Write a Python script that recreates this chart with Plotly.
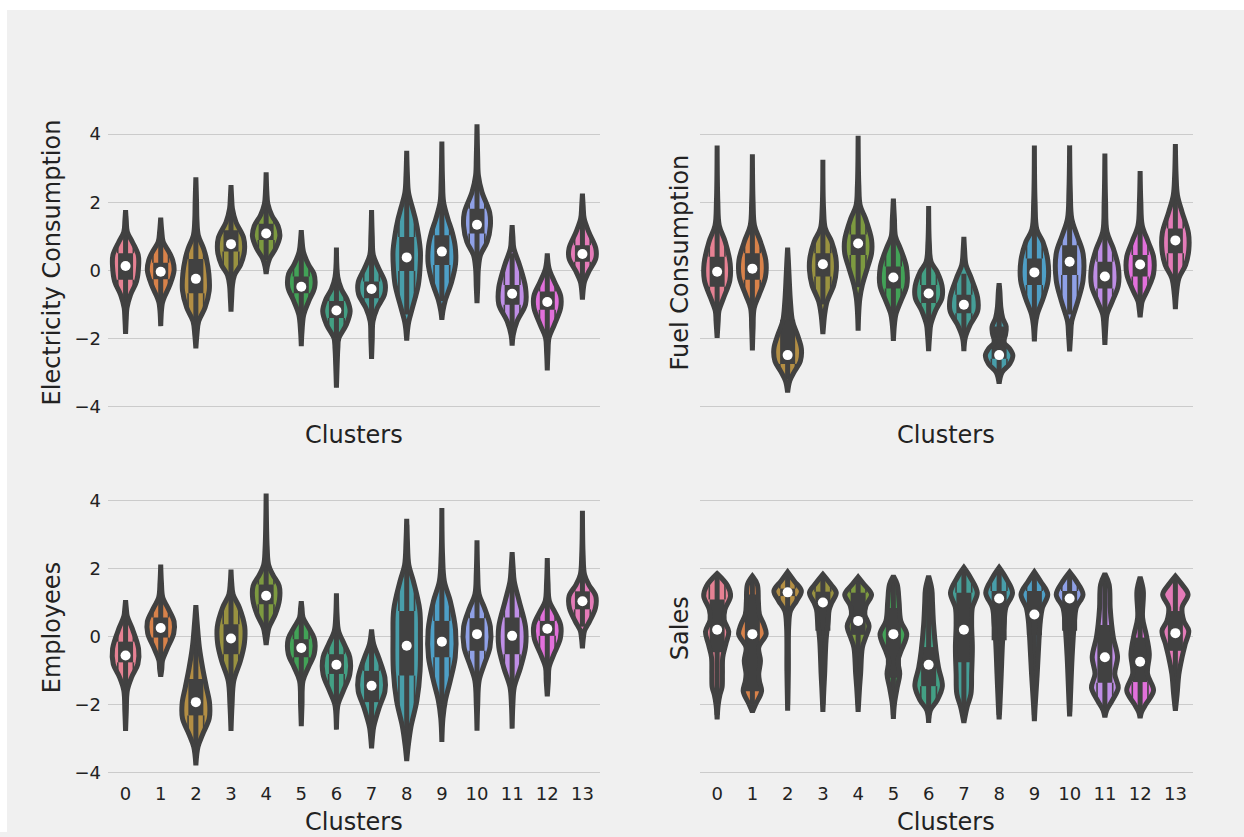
import math
import colorsys
import numpy as np
import plotly.graph_objects as go

# ---------------------------------------------------------------- data
clusters = list(range(14))
y_tick_vals = [-4, -2, 0, 2, 4]
y_tick_text = ["\u22124", "\u22122", "0", "2", "4"]

# Each violin outline is a list of (value, half-width of the density) knots,
# running from the lower tip to the upper tip.

# --- Electricity Consumption
elec_median = [0.13, -0.04, -0.25, 0.77, 1.08, -0.48, -1.18, -0.55, 0.38, 0.55, 1.34, -0.69, -0.93, 0.48]
elec_q1 = [-0.28, -0.26, -0.67, 0.55, 0.89, -0.67, -1.40, -0.82, -0.02, 0.16, 1.08, -1.01, -1.16, 0.25]
elec_q3 = [0.50, 0.22, 0.33, 1.18, 1.37, -0.18, -0.90, -0.33, 0.98, 1.03, 1.81, -0.43, -0.62, 0.74]
elec_whisk_lo = [-1.35, -0.95, -1.9, -0.3, 0.3, -1.4, -2.3, -1.7, -1.3, -0.9, 0.1, -1.9, -2.0, -0.4]
elec_whisk_hi = [1.6, 0.9, 1.8, 2.0, 2.1, 0.6, -0.1, 0.8, 2.4, 2.3, 2.9, 0.5, 0.2, 1.6]
elec_density = [
    [(-1.87, 0), (-1.4, .02), (-1.1, .04), (-0.72, .14), (-0.33, .31), (0.1, .37), (0.45, .36), (0.84, .19), (1.13, .05), (1.45, .02), (1.77, 0)],
    [(-1.64, 0), (-1.2, .02), (-0.95, .05), (-0.82, .09), (-0.43, .26), (0.0, .38), (0.3, .34), (0.55, .23), (0.84, .07), (1.15, .03), (1.55, 0)],
    [(-2.29, 0), (-1.9, .03), (-1.5, .08), (-1.1, .26), (-0.6, .38), (-0.1, .37), (0.35, .3), (0.64, .22), (1.03, .07), (1.5, .03), (2.0, .02), (2.73, 0)],
    [(-1.21, 0), (-0.8, .02), (-0.45, .04), (-0.14, .10), (0.16, .27), (0.55, .38), (0.95, .36), (1.42, .14), (1.81, .04), (2.1, .02), (2.5, 0)],
    [(-0.11, 0), (0.1, .03), (0.35, .10), (0.64, .27), (1.0, .39), (1.3, .34), (1.62, .16), (1.95, .05), (2.3, .02), (2.88, 0)],
    [(-2.23, 0), (-1.8, .02), (-1.3, .07), (-0.91, .21), (-0.5, .38), (-0.1, .36), (0.16, .21), (0.55, .06), (0.9, .02), (1.18, 0)],
    [(-3.45, 0), (-2.8, .02), (-2.3, .04), (-1.99, .07), (-1.6, .28), (-1.2, .39), (-0.85, .3), (-0.55, .14), (-0.2, .04), (0.67, 0)],
    [(-2.6, 0), (-2.0, .02), (-1.5, .04), (-1.11, .16), (-0.7, .37), (-0.35, .38), (0.06, .2), (0.45, .05), (1.0, .02), (1.77, 0)],
    [(-2.06, 0), (-1.7, .03), (-1.5, .06), (-1.11, .16), (-0.43, .33), (0.1, .38), (0.55, .39), (1.0, .34), (1.5, .25), (1.81, .17), (2.3, .05), (2.8, .02), (3.51, 0)],
    [(-1.45, 0), (-1.2, .03), (-0.91, .09), (-0.33, .28), (0.2, .39), (0.7, .38), (1.1, .3), (1.52, .17), (2.0, .05), (2.6, .02), (3.78, 0)],
    [(-0.96, 0), (-0.5, .02), (0.06, .04), (0.45, .10), (0.84, .29), (1.3, .38), (1.7, .36), (2.3, .14), (2.78, .04), (3.3, .02), (4.29, 0)],
    [(-2.21, 0), (-1.9, .03), (-1.5, .14), (-1.0, .38), (-0.5, .38), (0.16, .21), (0.64, .05), (1.0, .02), (1.33, 0)],
    [(-2.94, 0), (-2.4, .02), (-1.98, .05), (-1.6, .2), (-1.1, .38), (-0.75, .38), (-0.33, .2), (0.06, .05), (0.5, 0)],
    [(-0.86, 0), (-0.5, .03), (-0.33, .06), (-0.04, .18), (0.35, .38), (0.65, .38), (1.13, .18), (1.52, .05), (1.9, .02), (2.25, 0)],
]

# --- Fuel Consumption
fuel_median = [-0.04, 0.05, -2.49, 0.18, 0.79, -0.21, -0.68, -1.01, -2.49, -0.06, 0.25, -0.18, 0.17, 0.88]
fuel_q1 = [-0.48, -0.28, -2.75, -0.18, 0.45, -0.53, -0.96, -1.26, -2.6, -0.43, -0.14, -0.53, -0.18, 0.5]
fuel_q3 = [0.4, 0.5, -1.45, 0.5, 1.05, 0.11, -0.43, -0.72, -1.65, 0.35, 0.74, 0.25, 0.45, 1.23]
fuel_whisk_lo = [-1.5, -1.3, -3.2, -1.0, -0.5, -1.3, -1.7, -2.0, -3.1, -1.5, -1.3, -1.5, -0.9, -0.4]
fuel_whisk_hi = [1.7, 1.8, 0.3, 1.5, 2.1, 1.0, 0.3, -0.1, -0.6, 1.6, 2.0, 1.5, 1.5, 2.2]
fuel_density = [
    [(-1.98, 0), (-1.5, .03), (-1.2, .05), (-0.82, .18), (-0.3, .36), (0.2, .37), (0.84, .23), (1.32, .06), (2.0, .02), (3.67, 0)],
    [(-2.35, 0), (-1.7, .02), (-1.11, .05), (-0.72, .19), (-0.2, .37), (0.3, .38), (0.84, .23), (1.32, .06), (2.0, .02), (3.41, 0)],
    [(-3.59, 0), (-3.25, .06), (-2.96, .2), (-2.67, .36), (-2.3, .39), (-1.9, .28), (-1.5, .14), (-0.92, .08), (-0.14, .04), (0.3, .02), (0.67, 0)],
    [(-1.87, 0), (-1.5, .03), (-1.3, .05), (-0.91, .12), (-0.43, .31), (0.0, .38), (0.35, .37), (0.84, .25), (1.23, .07), (1.8, .02), (3.25, 0)],
    [(-1.77, 0), (-1.2, .02), (-0.82, .05), (-0.43, .12), (0.06, .26), (0.5, .38), (0.9, .38), (1.52, .21), (1.9, .06), (2.5, .02), (3.95, 0)],
    [(-2.07, 0), (-1.6, .03), (-1.3, .07), (-0.91, .21), (-0.45, .38), (0.1, .37), (0.64, .2), (1.0, .06), (1.5, .03), (2.11, 0)],
    [(-2.37, 0), (-1.9, .03), (-1.6, .06), (-1.2, .19), (-0.8, .38), (-0.45, .38), (-0.04, .24), (0.25, .07), (0.8, .02), (1.89, 0)],
    [(-2.37, 0), (-1.98, .04), (-1.6, .18), (-1.2, .39), (-0.8, .39), (-0.23, .21), (0.16, .06), (0.6, .02), (0.98, 0)],
    [(-3.33, 0), (-3.0, .08), (-2.75, .3), (-2.5, .39), (-2.3, .3), (-2.1, .12), (-1.9, .18), (-1.65, .2), (-1.4, .1), (-1.1, .05), (-0.6, .02), (-0.38, 0)],
    [(-2.09, 0), (-1.6, .03), (-1.3, .08), (-0.82, .25), (-0.3, .39), (0.3, .38), (0.84, .24), (1.2, .07), (2.0, .02), (3.67, 0)],
    [(-2.38, 0), (-1.9, .03), (-1.5, .06), (-0.92, .23), (-0.3, .38), (0.5, .38), (1.03, .21), (1.52, .06), (2.3, .02), (3.67, 0)],
    [(-2.19, 0), (-1.6, .03), (-1.3, .06), (-0.91, .21), (-0.45, .38), (0.1, .38), (0.64, .24), (1.13, .06), (2.0, .02), (3.43, 0)],
    [(-1.38, 0), (-1.1, .03), (-0.91, .06), (-0.53, .23), (-0.1, .38), (0.4, .38), (0.84, .23), (1.32, .06), (2.0, .02), (2.92, 0)],
    [(-1.14, 0), (-0.7, .03), (-0.23, .1), (0.16, .29), (0.6, .38), (1.1, .37), (1.71, .19), (2.2, .06), (2.8, .02), (3.71, 0)],
]

# --- Employees
emp_median = [-0.55, 0.26, -1.92, -0.05, 1.21, -0.33, -0.82, -1.44, -0.26, -0.14, 0.08, 0.03, 0.24, 1.05]
emp_q1 = [-0.75, -0.02, -2.31, -0.51, 0.96, -0.6, -1.09, -1.92, -1.14, -0.6, -0.41, -0.51, 0.03, 0.81]
emp_q3 = [-0.14, 0.57, -1.24, 0.37, 1.54, -0.07, -0.51, -1.0, 0.76, 0.47, 0.55, 0.57, 0.47, 1.34]
emp_whisk_lo = [-1.7, -0.8, -3.3, -1.8, 0.2, -1.4, -1.9, -2.9, -3.4, -2.2, -1.6, -1.9, -0.9, 0.3]
emp_whisk_hi = [0.7, 1.3, 0.3, 1.5, 2.4, 0.7, 0.3, 0.0, 3.3, 2.0, 1.9, 1.9, 1.4, 1.9]
emp_density = [
    [(-2.77, 0), (-2.2, .02), (-1.58, .05), (-1.19, .17), (-0.8, .35), (-0.35, .37), (0.27, .18), (0.6, .05), (0.85, .02), (1.08, 0)],
    [(-1.17, 0), (-0.95, .03), (-0.7, .05), (-0.31, .2), (0.1, .37), (0.45, .38), (0.86, .2), (1.15, .06), (1.6, .02), (2.13, 0)],
    [(-3.78, 0), (-3.24, .06), (-2.85, .2), (-2.4, .38), (-1.95, .39), (-1.48, .3), (-0.9, .19), (-0.31, .1), (0.37, .04), (0.93, 0)],
    [(-2.77, 0), (-2.0, .03), (-1.29, .08), (-0.7, .27), (-0.2, .38), (0.3, .39), (0.86, .24), (1.25, .06), (1.6, .02), (1.98, 0)],
    [(-0.24, 0), (0.0, .03), (0.27, .08), (0.66, .26), (1.1, .38), (1.5, .37), (1.83, .19), (2.12, .07), (2.6, .03), (4.22, 0)],
    [(-2.63, 0), (-2.0, .02), (-1.29, .05), (-0.9, .2), (-0.5, .37), (-0.05, .37), (0.27, .21), (0.57, .05), (0.85, .02), (1.05, 0)],
    [(-2.73, 0), (-2.2, .02), (-1.97, .05), (-1.58, .2), (-1.1, .38), (-0.6, .38), (-0.21, .22), (0.18, .06), (0.6, .02), (1.28, 0)],
    [(-3.28, 0), (-2.9, .03), (-2.65, .06), (-2.07, .22), (-1.6, .38), (-1.2, .38), (-0.6, .2), (-0.21, .06), (0.22, 0)],
    [(-3.65, 0), (-3.24, .04), (-2.65, .12), (-1.87, .29), (-1.0, .38), (0.0, .39), (0.8, .37), (1.64, .19), (2.12, .06), (2.8, .02), (3.47, 0)],
    [(-3.09, 0), (-2.4, .03), (-1.87, .1), (-1.29, .24), (-0.6, .38), (0.2, .39), (1.05, .24), (1.64, .07), (2.4, .02), (3.79, 0)],
    [(-2.76, 0), (-2.0, .02), (-1.29, .06), (-0.8, .21), (-0.3, .37), (0.3, .38), (0.86, .21), (1.25, .06), (1.9, .02), (2.84, 0)],
    [(-2.7, 0), (-2.0, .02), (-1.48, .06), (-0.9, .24), (-0.3, .38), (0.3, .38), (1.05, .2), (1.64, .06), (2.0, .03), (2.49, 0)],
    [(-1.75, 0), (-1.3, .03), (-0.9, .05), (-0.51, .19), (-0.05, .37), (0.35, .38), (0.76, .2), (1.05, .06), (1.6, .02), (2.32, 0)],
    [(-0.34, 0), (0.0, .03), (0.18, .06), (0.47, .21), (0.85, .37), (1.2, .38), (1.54, .18), (1.83, .06), (2.4, .02), (3.71, 0)],
]

# --- Sales
sales_median = [0.21, 0.08, 1.31, 1.01, 0.47, 0.08, -0.82, 0.21, 1.13, 0.66, 1.13, -0.6, -0.73, 0.11]
sales_q1 = [-0.45, -1.6, 1.2, 0.18, 0.06, -1.2, -1.45, -0.75, -0.1, 0.05, 0.18, -1.35, -1.33, -0.41]
sales_q3 = [1.1, 1.25, 1.42, 1.33, 1.3, 0.85, -0.3, 1.3, 1.35, 1.35, 1.35, 0.35, -0.02, 0.76]
sales_whisk_lo = [-2.3, -2.1, -2.0, -2.0, -2.0, -2.3, -2.4, -2.4, -2.3, -2.3, -2.2, -2.25, -2.3, -2.05]
sales_whisk_hi = [1.78, 1.7, 1.8, 1.75, 1.7, 1.7, 1.7, 1.95, 1.95, 1.85, 1.85, 1.8, 1.7, 1.7]
sales_density = [
    [(-2.43, 0), (-2.0, .03), (-1.7, .08), (-1.48, .14), (-1.09, .15), (-0.6, .16), (-0.2, .25), (0.15, .33), (0.5, .2), (0.8, .22), (1.2, .38), (1.5, .3), (1.86, 0)],
    [(-2.21, 0), (-1.97, .1), (-1.6, .26), (-1.3, .2), (-1.09, .18), (-0.7, .23), (-0.31, .18), (0.08, .39), (0.35, .33), (0.66, .2), (1.05, .17), (1.54, .14), (1.79, 0)],
    [(-2.17, 0), (-1.0, .02), (0.3, .03), (0.76, .08), (1.05, .25), (1.35, .39), (1.64, .19), (1.91, 0)],
    [(-2.21, 0), (-1.5, .03), (-1.09, .05), (-0.1, .09), (0.47, .15), (0.8, .18), (1.0, .25), (1.3, .38), (1.54, .23), (1.84, 0)],
    [(-2.21, 0), (-1.5, .04), (-1.09, .07), (-0.31, .12), (-0.02, .21), (0.32, .31), (0.66, .19), (0.91, .22), (1.25, .38), (1.54, .17), (1.76, 0)],
    [(-2.41, 0), (-1.97, .03), (-1.48, .11), (-1.09, .18), (-0.7, .13), (-0.41, .22), (0.08, .38), (0.47, .21), (1.05, .16), (1.54, .11), (1.79, 0)],
    [(-2.53, 0), (-2.16, .05), (-1.87, .24), (-1.45, .39), (-0.9, .28), (-0.41, .21), (0.37, .14), (1.0, .11), (1.4, .09), (1.79, 0)],
    [(-2.53, 0), (-2.07, .09), (-1.68, .2), (-1.09, .22), (-0.31, .24), (0.37, .22), (0.86, .24), (1.3, .38), (1.74, .19), (2.04, 0)],
    [(-2.43, 0), (-2.07, .02), (-1.09, .06), (-0.1, .1), (0.37, .14), (0.86, .19), (1.3, .38), (1.74, .19), (2.04, 0)],
    [(-2.48, 0), (-2.07, .02), (-1.09, .08), (-0.1, .13), (0.47, .17), (0.86, .23), (1.25, .38), (1.64, .17), (1.91, 0)],
    [(-2.34, 0), (-1.87, .02), (-0.6, .07), (0.37, .13), (0.86, .19), (1.25, .38), (1.64, .19), (1.91, 0)],
    [(-2.37, 0), (-2.16, .05), (-1.87, .21), (-1.5, .38), (-1.09, .28), (-0.6, .36), (-0.02, .24), (0.37, .19), (0.86, .15), (1.54, .12), (1.86, 0)],
    [(-2.39, 0), (-2.21, .04), (-1.97, .17), (-1.58, .38), (-1.09, .21), (-0.5, .26), (0.08, .17), (0.56, .07), (1.35, .09), (1.76, 0)],
    [(-2.17, 0), (-1.68, .05), (-1.09, .1), (-0.6, .19), (-0.21, .28), (0.18, .38), (0.47, .24), (0.86, .19), (1.25, .36), (1.54, .19), (1.79, 0)],
]

# ---------------------------------------------------------------- palette (HUSL, desaturated)
_M = [
    [3.240969941904521, -1.537383177570093, -0.498610760293],
    [-0.96924363628087, 1.87596750150772, 0.041555057407175],
    [0.055630079696993, -0.20397695888897, 1.056971514242878],
]
_REF_U = 0.19783000664283
_REF_V = 0.46831999493879
_KAPPA = 903.2962962
_EPS = 0.0088564516


def _max_chroma(L, H):
    hrad = math.radians(H)
    sin_h, cos_h = math.sin(hrad), math.cos(hrad)
    sub1 = (L + 16.0) ** 3 / 1560896.0
    sub2 = sub1 if sub1 > _EPS else L / _KAPPA
    best = float("inf")
    for m1, m2, m3 in _M:
        top = (0.99915 * m1 + 1.05122 * m2 + 1.14460 * m3) * sub2
        rbottom = 0.86330 * m3 - 0.17266 * m2
        lbottom = 0.12949 * m3 - 0.38848 * m1
        bottom = (rbottom * sin_h + lbottom * cos_h) * sub2
        for t in (0.0, 1.0):
            c = L * (top - 1.05122 * t) / (bottom + 0.17266 * sin_h * t)
            if 0.0 < c < best:
                best = c
    return best


def husl_to_rgb(h, s, l):
    chroma = _max_chroma(l, h) / 100.0 * s
    hrad = math.radians(h)
    u, v = math.cos(hrad) * chroma, math.sin(hrad) * chroma
    y = ((l + 16.0) / 116.0) ** 3 if l > 8 else l / _KAPPA
    var_u = u / (13.0 * l) + _REF_U
    var_v = v / (13.0 * l) + _REF_V
    x = -(9.0 * y * var_u) / ((var_u - 4.0) * var_v - var_u * var_v)
    z = (9.0 * y - 15.0 * var_v * y - var_v * x) / (3.0 * var_v)
    rgb = []
    for row in _M:
        c = row[0] * x + row[1] * y + row[2] * z
        c = 12.92 * c if c <= 0.0031308 else 1.055 * c ** (1 / 2.4) - 0.055
        rgb.append(min(max(c, 0.0), 1.0))
    return rgb


def violin_palette(n):
    hues = (np.linspace(0, 1, n + 1)[:-1] + 0.01) % 1 * 359
    cols = []
    for h in hues:
        r, g, b = husl_to_rgb(h, 0.9 * 99, 0.65 * 99)
        hh, ll, ss = colorsys.rgb_to_hls(r, g, b)
        cols.append(colorsys.hls_to_rgb(hh, ll, ss * 0.75))
    return cols


palette = violin_palette(len(clusters))
lum = min(colorsys.rgb_to_hls(*c)[1] for c in palette) * 0.6
GRAY = "#{0:02x}{0:02x}{0:02x}".format(int(round(lum * 255)))
fills = ["rgb({},{},{})".format(*[int(round(v * 255)) for v in c]) for c in palette]

# ---------------------------------------------------------------- layout geometry
W, H = 1244, 837
X_LEFT = [108 / W, 600 / W]
X_RIGHT = [699.5 / W, 1193 / W]
Y_TOP = [1 - 414.1 / H, 1 - 112.7 / H]
Y_BOTTOM = [1 - 782.6 / H, 1 - 481.7 / H]
Y_RANGE = [-4.15, 4.65]
BOX_HALF = 0.222  # half width of the inner quartile bar, in category units

FONT = "DejaVu Sans"
TEXT = "#222222"

panels = [
    ("x", "y", elec_density, elec_q1, elec_median, elec_q3, elec_whisk_lo, elec_whisk_hi),
    ("x2", "y2", fuel_density, fuel_q1, fuel_median, fuel_q3, fuel_whisk_lo, fuel_whisk_hi),
    ("x3", "y3", emp_density, emp_q1, emp_median, emp_q3, emp_whisk_lo, emp_whisk_hi),
    ("x4", "y4", sales_density, sales_q1, sales_median, sales_q3, sales_whisk_lo, sales_whisk_hi),
]

fig = go.Figure()

for xa, ya, density, q1, med, q3, wlo, whi in panels:
    out_x, out_y = [], []
    edge_x, edge_y = [], []
    for c, prof in zip(clusters, density):
        ys = [p[0] for p in prof]
        ws = [p[1] for p in prof]
        px = [c + w for w in ws] + [c - w for w in ws[::-1]]
        py = ys + ys[::-1]
        fig.add_trace(go.Scatter(
            x=px, y=py, xaxis=xa, yaxis=ya, mode="lines", fill="toself",
            fillcolor=fills[c], line=dict(width=0, shape="spline", color=fills[c]),
            hoverinfo="skip", showlegend=False))
        out_x += px + [px[0], None]
        out_y += py + [py[0], None]

        # edges of the quartile bar, continued inside the body of the violin
        grid = np.linspace(ys[0], ys[-1], 600)
        wg = np.interp(grid, ys, ws)
        above = grid[grid >= q3[c]]
        wa = wg[grid >= q3[c]]
        if len(above) and wa[0] > BOX_HALF:
            stop = np.argmax(wa <= BOX_HALF) if np.any(wa <= BOX_HALF) else len(wa) - 1
            for s in (-1, 1):
                edge_x += [c + s * BOX_HALF, c + s * BOX_HALF, None]
                edge_y += [q3[c], above[stop], None]
        below = grid[grid <= q1[c]][::-1]
        wb = wg[grid <= q1[c]][::-1]
        if len(below) and wb[0] > BOX_HALF:
            stop = np.argmax(wb <= BOX_HALF) if np.any(wb <= BOX_HALF) else len(wb) - 1
            for s in (-1, 1):
                edge_x += [c + s * BOX_HALF, c + s * BOX_HALF, None]
                edge_y += [q1[c], below[stop], None]

    fig.add_trace(go.Scatter(
        x=edge_x, y=edge_y, xaxis=xa, yaxis=ya, mode="lines",
        line=dict(width=1.6, color=GRAY), hoverinfo="skip", showlegend=False))

    wx, wy, bx, by = [], [], [], []
    for c in clusters:
        wx += [c, c, None]
        wy += [wlo[c], whi[c], None]
        bx += [c, c, None]
        by += [q1[c], q3[c], None]
    fig.add_trace(go.Scatter(
        x=wx, y=wy, xaxis=xa, yaxis=ya, mode="lines",
        line=dict(width=5, color=GRAY), hoverinfo="skip", showlegend=False))
    fig.add_trace(go.Scatter(
        x=bx, y=by, xaxis=xa, yaxis=ya, mode="lines",
        line=dict(width=15, color=GRAY), hoverinfo="skip", showlegend=False))
    fig.add_trace(go.Scatter(
        x=out_x, y=out_y, xaxis=xa, yaxis=ya, mode="lines",
        line=dict(width=5, color=GRAY, shape="spline"),
        hoverinfo="skip", showlegend=False))
    fig.add_trace(go.Scatter(
        x=clusters, y=med, xaxis=xa, yaxis=ya, mode="markers",
        marker=dict(size=10, color="white", line=dict(width=0)),
        hoverinfo="skip", showlegend=False))

axis_common_x = dict(range=[-0.5, 13.5], showgrid=False, zeroline=False, showline=False,
                     tickmode="array", tickvals=clusters, ticktext=[str(c) for c in clusters],
                     ticks="", tickfont=dict(family=FONT, size=18, color=TEXT),
                     ticklabelstandoff=3, fixedrange=True)
axis_common_y = dict(range=Y_RANGE, showgrid=True, gridcolor="#cbcbcb", gridwidth=1.3,
                     zeroline=False, showline=False, tickmode="array",
                     tickvals=y_tick_vals, ticktext=y_tick_text, ticks="",
                     tickfont=dict(family=FONT, size=18, color=TEXT),
                     ticklabelstandoff=6, fixedrange=True)

fig.update_layout(
    width=W, height=H,
    margin=dict(l=0, r=0, t=0, b=0),
    paper_bgcolor="#f0f0f0",
    plot_bgcolor="rgba(0,0,0,0)",
    showlegend=False,
    xaxis=dict(axis_common_x, domain=X_LEFT, anchor="y", showticklabels=False),
    xaxis2=dict(axis_common_x, domain=X_RIGHT, anchor="y2", showticklabels=False),
    xaxis3=dict(axis_common_x, domain=X_LEFT, anchor="y3", showticklabels=True),
    xaxis4=dict(axis_common_x, domain=X_RIGHT, anchor="y4", showticklabels=True),
    yaxis=dict(axis_common_y, domain=Y_TOP, anchor="x", showticklabels=True),
    yaxis2=dict(axis_common_y, domain=Y_TOP, anchor="x2", showticklabels=False),
    yaxis3=dict(axis_common_y, domain=Y_BOTTOM, anchor="x3", showticklabels=True),
    yaxis4=dict(axis_common_y, domain=Y_BOTTOM, anchor="x4", showticklabels=False),
    shapes=[
        dict(type="rect", xref="paper", yref="paper", x0=0, x1=7 / W, y0=0, y1=1,
             fillcolor="white", line=dict(width=0), layer="below"),
        dict(type="rect", xref="paper", yref="paper", x0=0, x1=1, y0=1 - 10 / H, y1=1,
             fillcolor="white", line=dict(width=0), layer="below"),
    ],
)


def label(text, px, py, angle=0):
    fig.add_annotation(text=text, x=px / W, y=1 - py / H, xref="paper", yref="paper",
                       xanchor="center", yanchor="middle", showarrow=False,
                       textangle=angle, font=dict(family=FONT, size=24, color=TEXT))


label("Electricity Consumption", 52, 264, -90)
label("Fuel Consumption", 680, 264, -90)
label("Employees", 52, 632, -90)
label("Sales", 680, 632, -90)
label("Clusters", 354, 438)
label("Clusters", 946, 438)
label("Clusters", 354, 827)
label("Clusters", 946, 827)

fig.write_html("out.html")
